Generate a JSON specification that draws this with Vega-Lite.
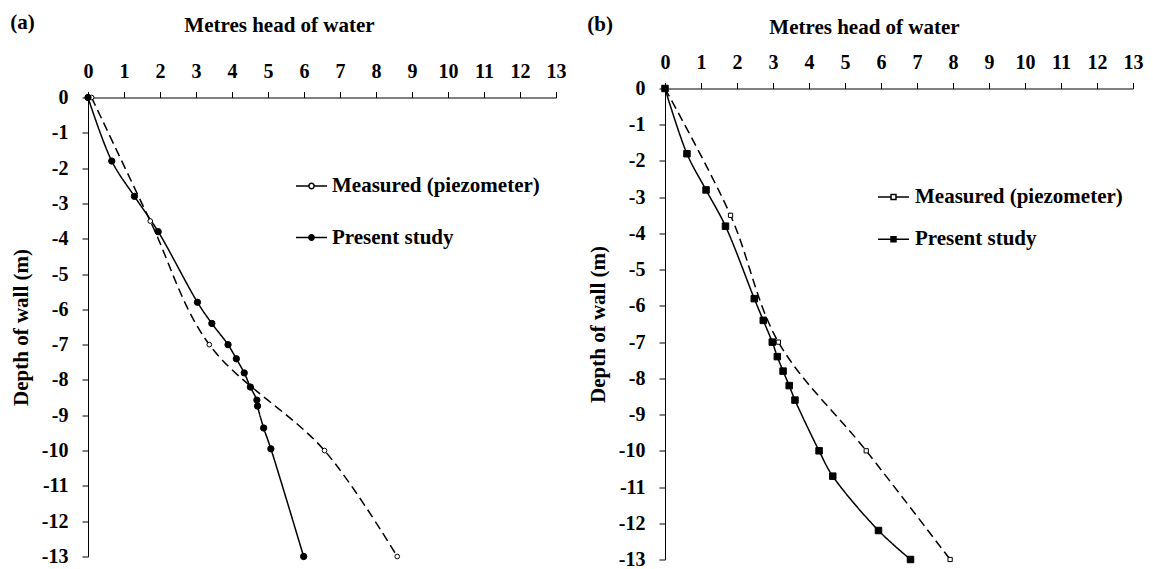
{
  "$schema": "https://vega.github.io/schema/vega-lite/v6.json",
  "padding": {"left": 10, "top": 11.5, "right": 5, "bottom": 0},
  "config": {
    "font": "Liberation Serif",
    "view": {"stroke": null},
    "axis": {"domainColor": "black", "tickColor": "black", "labelColor": "black", "titleColor": "black", "labelFontSize": 20, "titleFontSize": 21, "labelFontWeight": "bold", "titleFontWeight": "bold", "grid": false, "tickSize": 6, "labelFlush": false, "labelOverlap": false, "domainWidth": 1, "tickWidth": 1},
    "legend": {"labelFontSize": 21, "labelFontWeight": "bold", "labelColor": "black", "labelLimit": 0, "padding": 0, "symbolStrokeColor": "black", "symbolStrokeWidth": 1.5, "symbolSize": 961}
  },
  "datasets": {
    "a": [
      {"series": "Measured (piezometer)", "head": 0.1, "depth": 0},
      {"series": "Measured (piezometer)", "head": 1.73, "depth": -3.5},
      {"series": "Measured (piezometer)", "head": 3.37, "depth": -7.0},
      {"series": "Measured (piezometer)", "head": 6.57, "depth": -10.0},
      {"series": "Measured (piezometer)", "head": 8.59, "depth": -13.0},
      {"series": "Present study", "head": 0, "depth": 0},
      {"series": "Present study", "head": 0.66, "depth": -1.8},
      {"series": "Present study", "head": 1.29, "depth": -2.8},
      {"series": "Present study", "head": 1.95, "depth": -3.8},
      {"series": "Present study", "head": 3.04, "depth": -5.8},
      {"series": "Present study", "head": 3.44, "depth": -6.4},
      {"series": "Present study", "head": 3.89, "depth": -7.0},
      {"series": "Present study", "head": 4.12, "depth": -7.4},
      {"series": "Present study", "head": 4.34, "depth": -7.8},
      {"series": "Present study", "head": 4.51, "depth": -8.2},
      {"series": "Present study", "head": 4.69, "depth": -8.57},
      {"series": "Present study", "head": 4.71, "depth": -8.74},
      {"series": "Present study", "head": 4.88, "depth": -9.36},
      {"series": "Present study", "head": 5.08, "depth": -9.95},
      {"series": "Present study", "head": 5.99, "depth": -13.0}
    ],
    "b": [
      {"series": "Measured (piezometer)", "head": 0, "depth": 0},
      {"series": "Measured (piezometer)", "head": 1.82, "depth": -3.5},
      {"series": "Measured (piezometer)", "head": 3.15, "depth": -7.0},
      {"series": "Measured (piezometer)", "head": 5.59, "depth": -10.0},
      {"series": "Measured (piezometer)", "head": 7.92, "depth": -13.0},
      {"series": "Present study", "head": 0, "depth": 0},
      {"series": "Present study", "head": 0.61, "depth": -1.8},
      {"series": "Present study", "head": 1.14, "depth": -2.8},
      {"series": "Present study", "head": 1.68, "depth": -3.8},
      {"series": "Present study", "head": 2.48, "depth": -5.8},
      {"series": "Present study", "head": 2.73, "depth": -6.4},
      {"series": "Present study", "head": 2.98, "depth": -7.0},
      {"series": "Present study", "head": 3.12, "depth": -7.4},
      {"series": "Present study", "head": 3.28, "depth": -7.8},
      {"series": "Present study", "head": 3.45, "depth": -8.2},
      {"series": "Present study", "head": 3.61, "depth": -8.6},
      {"series": "Present study", "head": 4.28, "depth": -10.0},
      {"series": "Present study", "head": 4.66, "depth": -10.7},
      {"series": "Present study", "head": 5.93, "depth": -12.2},
      {"series": "Present study", "head": 6.82, "depth": -13.0}
    ]
  },
  "spacing": 21,
  "resolve": {"scale": {"x": "independent", "y": "independent", "fill": "independent"}, "legend": {"fill": "independent"}},
  "hconcat": [
    {
      "title": {"text": "(a)", "anchor": "start", "frame": "bounds", "fontSize": 21, "fontWeight": "bold", "color": "black", "dx": 0, "offset": -18},
      "width": 468,
      "height": 471,
      "data": {"name": "a"},
      "encoding": {
        "x": {"field": "head", "type": "quantitative", "scale": {"domain": [0, 13], "nice": false, "zero": false},
          "axis": {"orient": "top", "offset": -9, "title": "Metres head of water", "values": [0,1,2,3,4,5,6,7,8,9,10,11,12,13], "labelPadding": 10, "titlePadding": 26, "titleX": 191}},
        "y": {"field": "depth", "type": "quantitative", "scale": {"domain": [-13, 0], "nice": false, "range": [468, 9]},
          "axis": {"title": "Depth of wall (m)", "values": [0,-1,-2,-3,-4,-5,-6,-7,-8,-9,-10,-11,-12,-13], "labelExpr": "toString(datum.value)", "labelPadding": 14, "titlePadding": 10}},
        "order": {"field": "depth", "sort": "descending"}
      },
      "layer": [
        {"mark": {"type": "line", "interpolate": "catmull-rom", "color": "black", "strokeWidth": 1.5},
          "encoding": {
            "detail": {"field": "series", "type": "nominal"},
            "strokeDash": {"condition": {"test": "datum.series === 'Measured (piezometer)'", "value": [9, 5]}, "value": [1, 0]}
          }},
        {"mark": {"type": "point", "filled": true, "stroke": "black", "strokeWidth": 1, "opacity": 1},
          "encoding": {
            "fill": {"field": "series", "type": "nominal", "scale": {"domain": ["Measured (piezometer)", "Present study"], "range": ["white", "black"]},
              "legend": {"title": null, "orient": "none", "legendX": 207, "legendY": 81, "rowPadding": 24.5, "labelOffset": 4, "symbolType": "M-1,0H-0.17M0.17,0H1M-0.17,0A0.17,0.17,0,1,0,0.17,0A0.17,0.17,0,1,0,-0.17,0Z"}},
            "size": {"condition": {"test": "datum.series === 'Present study'", "value": 40}, "value": 22}
          }}
      ]
    },
    {
      "title": {"text": "(b)", "anchor": "start", "frame": "bounds", "fontSize": 21, "fontWeight": "bold", "color": "black", "dx": 0, "offset": -18},
      "width": 468,
      "height": 471,
      "data": {"name": "b"},
      "encoding": {
        "x": {"field": "head", "type": "quantitative", "scale": {"domain": [0, 13], "nice": false, "zero": false},
          "axis": {"orient": "top", "title": "Metres head of water", "values": [0,1,2,3,4,5,6,7,8,9,10,11,12,13], "labelPadding": 10, "titlePadding": 15, "titleX": 199}},
        "y": {"field": "depth", "type": "quantitative", "scale": {"domain": [-13, 0], "nice": false},
          "axis": {"title": "Depth of wall (m)", "values": [0,-1,-2,-3,-4,-5,-6,-7,-8,-9,-10,-11,-12,-13], "labelExpr": "toString(datum.value)", "labelPadding": 14, "titlePadding": 10}},
        "order": {"field": "depth", "sort": "descending"}
      },
      "layer": [
        {"mark": {"type": "line", "interpolate": "catmull-rom", "color": "black", "strokeWidth": 1.5},
          "encoding": {
            "detail": {"field": "series", "type": "nominal"},
            "strokeDash": {"condition": {"test": "datum.series === 'Measured (piezometer)'", "value": [9, 5]}, "value": [1, 0]}
          }},
        {"mark": {"type": "point", "shape": "square", "filled": true, "stroke": "black", "strokeWidth": 1, "opacity": 1},
          "encoding": {
            "fill": {"field": "series", "type": "nominal", "scale": {"domain": ["Measured (piezometer)", "Present study"], "range": ["white", "black"]},
              "legend": {"title": null, "orient": "none", "legendX": 212, "legendY": 92, "rowPadding": 15.3, "labelOffset": 5, "symbolType": "M-1,0H-0.16M0.16,0H1M-0.16,-0.16H0.16V0.16H-0.16Z"}},
            "size": {"condition": {"test": "datum.series === 'Present study'", "value": 42}, "value": 18}
          }}
      ]
    }
  ]
}
